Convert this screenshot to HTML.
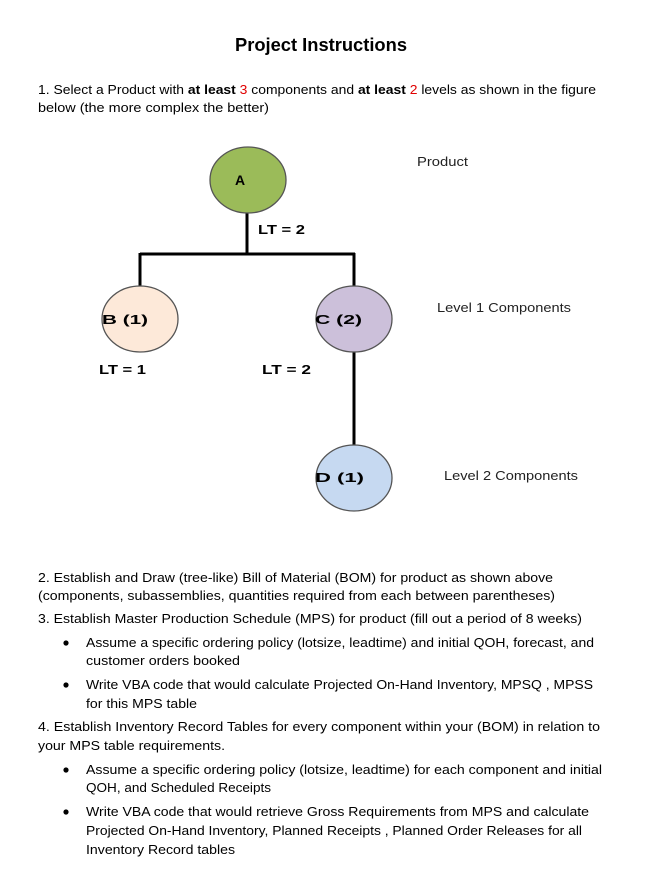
<!DOCTYPE html>
<html><head><meta charset="utf-8"><style>
html,body{margin:0;padding:0;background:#fff;}
svg{display:block;}
.t{font-family:"Liberation Sans",sans-serif;font-size:13px;fill:#000;}
.b{font-weight:bold;}
.r{fill:#e00000;}
.a{font-family:"Liberation Sans",sans-serif;font-size:13px;fill:#222;}
</style></head><body>
<svg width="645" height="874" xmlns="http://www.w3.org/2000/svg">
<text x="235" y="51" class="t b" style="font-size:18px" textLength="172" lengthAdjust="spacingAndGlyphs">Project Instructions</text>
<text x="38" y="94" class="t" textLength="558" lengthAdjust="spacingAndGlyphs">1. Select a Product with <tspan class="b">at least</tspan> <tspan class="r">3</tspan> components and <tspan class="b">at least</tspan> <tspan class="r">2</tspan> levels as shown in the figure</text>
<text x="38" y="112" class="t" textLength="231" lengthAdjust="spacingAndGlyphs">below (the more complex the better)</text>

<g stroke="#000" stroke-width="3" fill="none">
<line x1="247" y1="213" x2="247" y2="255"/>
<line x1="140" y1="254" x2="355" y2="254"/>
<line x1="140" y1="253" x2="140" y2="287"/>
<line x1="354" y1="253" x2="354" y2="287"/>
<line x1="354" y1="351" x2="354" y2="446"/>
</g>
<g stroke="#555" stroke-width="1.3">
<ellipse cx="248" cy="180" rx="38" ry="33" fill="#9bbb59"/>
<ellipse cx="140" cy="319" rx="38" ry="33" fill="#fde9d9"/>
<ellipse cx="354" cy="319" rx="38" ry="33" fill="#ccc0da"/>
<ellipse cx="354" cy="478" rx="38" ry="33" fill="#c6d9f1"/>
</g>
<text x="235" y="185" class="t b" style="font-size:14px">A</text>
<text x="102" y="324" class="t b" textLength="46" lengthAdjust="spacingAndGlyphs">B (1)</text>
<text x="315" y="324" class="t b" textLength="47" lengthAdjust="spacingAndGlyphs">C (2)</text>
<text x="315" y="482" class="t b" textLength="49" lengthAdjust="spacingAndGlyphs">D (1)</text>
<text x="258" y="234" class="t b" textLength="47" lengthAdjust="spacingAndGlyphs">LT = 2</text>
<text x="99" y="374" class="t b" textLength="47" lengthAdjust="spacingAndGlyphs">LT = 1</text>
<text x="262" y="374" class="t b" textLength="49" lengthAdjust="spacingAndGlyphs">LT = 2</text>
<text x="417" y="166" class="a" textLength="51" lengthAdjust="spacingAndGlyphs">Product</text>
<text x="437" y="312" class="a" textLength="134" lengthAdjust="spacingAndGlyphs">Level 1 Components</text>
<text x="444" y="480" class="a" textLength="134" lengthAdjust="spacingAndGlyphs">Level 2 Components</text>

<text x="38" y="582" class="t" textLength="515" lengthAdjust="spacingAndGlyphs">2. Establish and Draw (tree-like) Bill of Material (BOM) for product as shown above</text>
<text x="38" y="600" class="t" textLength="517" lengthAdjust="spacingAndGlyphs">(components, subassemblies, quantities required from each between parentheses)</text>
<text x="38" y="623" class="t" textLength="544" lengthAdjust="spacingAndGlyphs">3. Establish Master Production Schedule (MPS) for product (fill out a period of 8 weeks)</text>
<circle cx="66" cy="643" r="2.6" fill="#000"/>
<text x="86" y="647" class="t" textLength="508" lengthAdjust="spacingAndGlyphs">Assume a specific ordering policy (lotsize, leadtime) and initial QOH, forecast, and</text>
<text x="86" y="665" class="t" textLength="154" lengthAdjust="spacingAndGlyphs">customer orders booked</text>
<circle cx="66" cy="685" r="2.6" fill="#000"/>
<text x="86" y="689" class="t" textLength="507" lengthAdjust="spacingAndGlyphs">Write VBA code that would calculate Projected On-Hand Inventory, MPSQ , MPSS</text>
<text x="86" y="708" class="t" textLength="111" lengthAdjust="spacingAndGlyphs">for this MPS table</text>
<text x="38" y="731" class="t" textLength="562" lengthAdjust="spacingAndGlyphs">4. Establish Inventory Record Tables for every component within your (BOM) in relation to</text>
<text x="38" y="750" class="t" textLength="187" lengthAdjust="spacingAndGlyphs">your MPS table requirements.</text>
<circle cx="66" cy="770" r="2.6" fill="#000"/>
<text x="86" y="774" class="t" textLength="516" lengthAdjust="spacingAndGlyphs">Assume a specific ordering policy (lotsize, leadtime) for each component and initial</text>
<text x="86" y="792" class="t" textLength="185" lengthAdjust="spacingAndGlyphs">QOH, and Scheduled Receipts</text>
<circle cx="66" cy="812" r="2.6" fill="#000"/>
<text x="86" y="816" class="t" textLength="503" lengthAdjust="spacingAndGlyphs">Write VBA code that would retrieve Gross Requirements from MPS and calculate</text>
<text x="86" y="835" class="t" textLength="496" lengthAdjust="spacingAndGlyphs">Projected On-Hand Inventory, Planned Receipts , Planned Order Releases for all</text>
<text x="86" y="854" class="t" textLength="149" lengthAdjust="spacingAndGlyphs">Inventory Record tables</text>
</svg>
</body></html>
